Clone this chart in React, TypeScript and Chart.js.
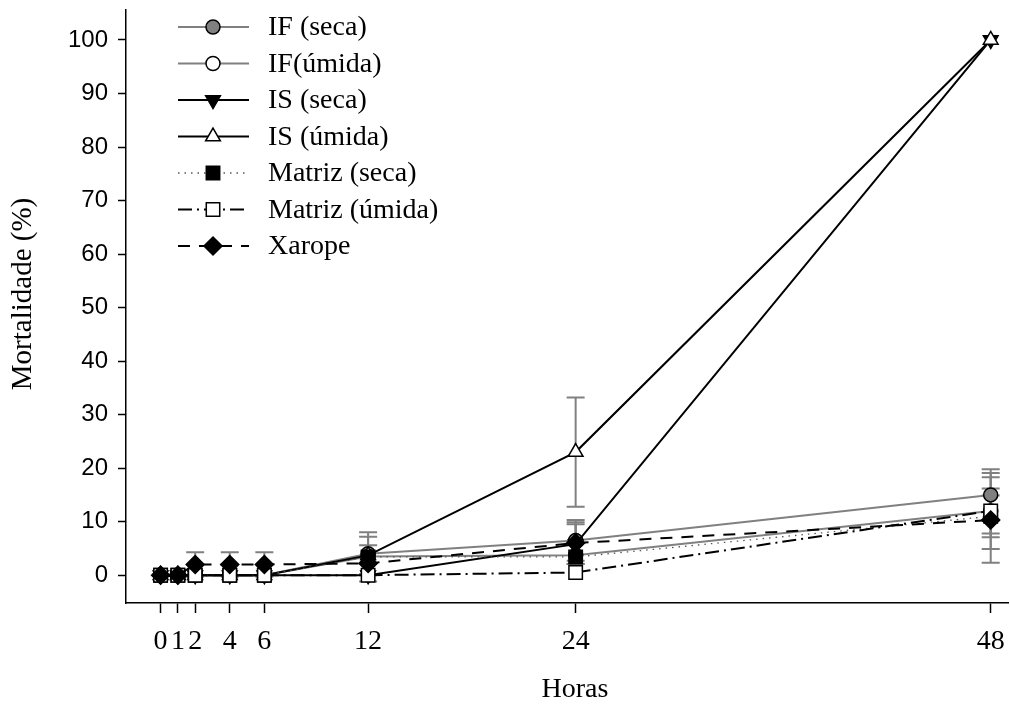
import React, { useEffect, useRef } from 'react';
import { Chart, registerables } from 'chart.js';

Chart.register(...registerables);

// ---------- data ----------
const hours = [0, 1, 2, 4, 6, 12, 24, 48];
const xTickValues = [0, 1, 2, 4, 6, 12, 24, 48];
const yTickValues = [0, 10, 20, 30, 40, 50, 60, 70, 80, 90, 100];

const seriesNames = ['IF (seca)', 'IF(úmida)', 'IS (seca)', 'IS (úmida)', 'Matriz (seca)', 'Matriz (úmida)', 'Xarope'];

const ifSeca = [0, 0, 0, 0, 0, 4, 6.5, 15];
const ifUmida = [0, 0, 0, 0, 0, 3.5, 3.7, 12];
const isSeca = [0, 0, 0, 0, 0, 0, 5.8, 100];
const isUmida = [0, 0, 0, 0, 0, 3.7, 23, 100];
const matrizSeca = [0, 0, 0, 0, 0, 3.4, 3.4, 11];
const matrizUmida = [0, 0, 0, 0, 0, 0, 0.5, 12];
const xarope = [0, 0, 2, 2, 2, 2.2, 6, 10.3];

const ifSecaErr = [0, 0, 0, 0, 0, 4, 3.8, 4.8];
const ifUmidaErr = [0, 0, 0, 0, 0, 0, 0, 7.1];
const isSecaErr = [0, 0, 0, 0, 0, 0, 3.7, 0];
const isUmidaErr = [0, 0, 0, 0, 0, 3.5, 10.2, 0];
const matrizSecaErr = [0, 0, 0, 0, 0, 0, 0, 3.9];
const matrizUmidaErr = [0, 0, 0, 0, 0, 0, 0, 4.2];
const xaropeErr = [0, 0, 2.3, 2.3, 2.3, 3.4, 3.9, 8];

const seriesValues = [ifSeca, ifUmida, isSeca, isUmida, matrizSeca, matrizUmida, xarope];
const seriesErrors = [ifSecaErr, ifUmidaErr, isSecaErr, isUmidaErr, matrizSecaErr, matrizUmidaErr, xaropeErr];

// ---------- styles ----------
const GRAY = '#808080';
const styles = [
  { line: GRAY, width: 2, dash: [] as number[], point: 'circle', radius: 7, fill: GRAY, rot: 0 },
  { line: GRAY, width: 2, dash: [] as number[], point: 'circle', radius: 7, fill: '#ffffff', rot: 0 },
  { line: '#000', width: 2, dash: [] as number[], point: 'triangle', radius: 8.5, fill: '#000', rot: 180 },
  { line: '#000', width: 2, dash: [] as number[], point: 'triangle', radius: 8.5, fill: '#ffffff', rot: 0 },
  { line: '#555', width: 1.3, dash: [1.5, 5], point: 'rect', radius: 9.5, fill: '#000', rot: 0 },
  { line: '#000', width: 2, dash: [14, 5, 2, 5], point: 'rect', radius: 9.5, fill: '#ffffff', rot: 0 },
  { line: '#000', width: 2, dash: [12, 9], point: 'rectRot', radius: 9, fill: '#000', rot: 0 },
];

const SERIF = "'Liberation Serif', 'Times New Roman', serif";
const SANS = "'Liberation Sans', Arial, sans-serif";

function drawMarker(ctx: CanvasRenderingContext2D, s: any, x: number, y: number) {
  ctx.save();
  ctx.setLineDash([]);
  ctx.lineWidth = 1.5;
  ctx.strokeStyle = '#000';
  ctx.fillStyle = s.fill;
  ctx.beginPath();
  const r = s.radius;
  if (s.point === 'circle') {
    ctx.arc(x, y, r, 0, Math.PI * 2);
  } else if (s.point === 'rect') {
    const h = Math.SQRT1_2 * r;
    ctx.rect(x - h, y - h, 2 * h, 2 * h);
  } else if (s.point === 'rectRot') {
    ctx.moveTo(x, y - r);
    ctx.lineTo(x + r, y);
    ctx.lineTo(x, y + r);
    ctx.lineTo(x - r, y);
    ctx.closePath();
  } else if (s.point === 'triangle') {
    const sign = s.rot === 180 ? -1 : 1;
    const a0 = -Math.PI / 2;
    for (let k = 0; k < 3; k++) {
      const a = a0 + (k * 2 * Math.PI) / 3;
      const px = x + Math.cos(a) * r;
      const py = y + sign * Math.sin(a) * r;
      if (k === 0) ctx.moveTo(px, py);
      else ctx.lineTo(px, py);
    }
    ctx.closePath();
  }
  ctx.fill();
  ctx.stroke();
  ctx.restore();
}

const errorBarPlugin = {
  id: 'errorBars',
  beforeDatasetsDraw(chart: any) {
    const ctx = chart.ctx;
    const yScale = chart.scales.y;
    ctx.save();
    ctx.strokeStyle = GRAY;
    ctx.lineWidth = 2;
    ctx.setLineDash([]);
    seriesErrors.forEach((errs, i) => {
      const meta = chart.getDatasetMeta(i);
      errs.forEach((e, j) => {
        if (!e) return;
        const v = seriesValues[i][j];
        const x = meta.data[j].x;
        const yTop = yScale.getPixelForValue(v + e);
        const yBot = yScale.getPixelForValue(v - e);
        ctx.beginPath();
        ctx.moveTo(x, yTop);
        ctx.lineTo(x, yBot);
        ctx.moveTo(x - 9, yTop);
        ctx.lineTo(x + 9, yTop);
        ctx.moveTo(x - 9, yBot);
        ctx.lineTo(x + 9, yBot);
        ctx.stroke();
      });
    });
    ctx.restore();
  },
};

const decorPlugin = {
  id: 'decor',
  afterDraw(chart: any) {
    const ctx = chart.ctx;
    ctx.save();
    // legend
    const x0 = 178;
    const x1 = 249;
    const xm = 213;
    const xt = 268;
    seriesNames.forEach((name, i) => {
      const s = styles[i];
      const y = 27 + i * 36.5;
      ctx.save();
      ctx.strokeStyle = s.line;
      ctx.lineWidth = s.width;
      ctx.setLineDash(s.dash);
      ctx.beginPath();
      ctx.moveTo(x0, y);
      ctx.lineTo(x1, y);
      ctx.stroke();
      ctx.restore();
      drawMarker(ctx, s, xm, y);
      ctx.fillStyle = '#000';
      ctx.font = `28px ${SERIF}`;
      ctx.textAlign = 'left';
      ctx.textBaseline = 'middle';
      ctx.fillText(name, xt, y + 1);
    });
    // axis titles
    ctx.fillStyle = '#000';
    ctx.font = `28px ${SERIF}`;
    ctx.textAlign = 'center';
    ctx.textBaseline = 'middle';
    ctx.fillText('Horas', 575, 690);
    ctx.save();
    ctx.translate(23, 294);
    ctx.rotate(-Math.PI / 2);
    ctx.font = `29px ${SERIF}`;
    ctx.fillText('Mortalidade (%)', 0, 0);
    ctx.restore();
    ctx.restore();
  },
};

function resetPadding(scale: any) {
  scale.paddingLeft = 0;
  scale.paddingRight = 0;
  scale.paddingTop = 0;
  scale.paddingBottom = 0;
}

export default function App() {
  const ref = useRef<HTMLCanvasElement>(null);

  useEffect(() => {
    if (!ref.current) return;
    const datasets = seriesNames.map((name, i) => {
      const s = styles[i];
      return {
        label: name,
        data: hours.map((h, j) => ({ x: h, y: seriesValues[i][j] })),
        borderColor: s.line,
        borderWidth: s.width,
        borderDash: s.dash,
        pointStyle: s.point,
        pointRadius: s.radius,
        pointRotation: s.rot,
        pointBackgroundColor: s.fill,
        pointBorderColor: '#000',
        pointBorderWidth: 1.5,
        tension: 0,
        fill: false,
        clip: false,
        order: seriesNames.length - i,
      };
    });
    const chart = new Chart(ref.current, {
      type: 'line',
      data: { datasets: datasets as any },
      options: {
        responsive: false,
        animation: false,
        layout: { autoPadding: false, padding: { top: 10, right: 2, left: 0, bottom: 0 } },
        plugins: { legend: { display: false }, tooltip: { enabled: false } },
        scales: {
          x: {
            type: 'linear',
            min: -2,
            max: 49,
            afterBuildTicks: (scale: any) => {
              scale.ticks = xTickValues.map((v) => ({ value: v }));
            },
            afterFit: (scale: any) => {
              scale.height = 104;
              resetPadding(scale);
            },
            ticks: {
              autoSkip: false,
              maxRotation: 0,
              color: '#000',
              padding: 12,
              font: { family: SERIF, size: 28 },
            },
            grid: {
              drawOnChartArea: false,
              drawTicks: true,
              tickLength: 10,
              tickColor: '#000',
              tickWidth: 1.5,
            },
            border: { display: true, color: '#000', width: 1.5 },
          },
          y: {
            type: 'linear',
            min: -5.2,
            max: 105.6,
            afterBuildTicks: (scale: any) => {
              scale.ticks = yTickValues.map((v) => ({ value: v }));
            },
            afterFit: (scale: any) => {
              scale.width = 126;
              resetPadding(scale);
            },
            ticks: {
              color: '#000',
              padding: 10,
              font: { family: SANS, size: 24 },
            },
            grid: {
              drawOnChartArea: false,
              drawTicks: true,
              tickLength: 8,
              tickColor: '#000',
              tickWidth: 1.5,
            },
            border: { display: true, color: '#000', width: 1.5 },
          },
        },
      },
      plugins: [errorBarPlugin, decorPlugin],
    });
    return () => chart.destroy();
  }, []);

  return (
    <div style={{ position: 'absolute', left: 0, top: 0, width: 1010, height: 707, background: '#fff' }}>
      <canvas ref={ref} width={1010} height={707} />
    </div>
  );
}
